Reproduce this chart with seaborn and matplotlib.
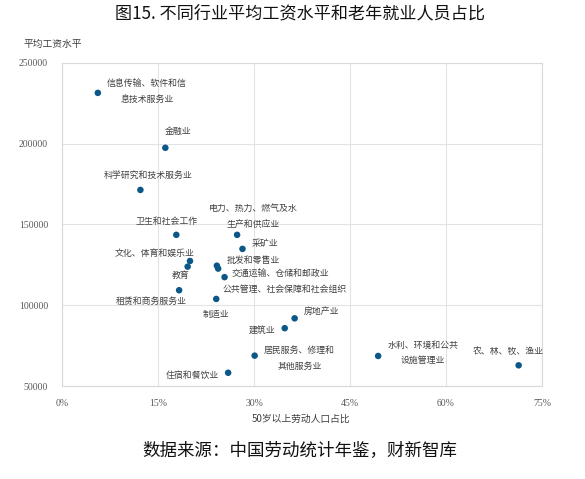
import matplotlib
matplotlib.use("Agg")
import matplotlib.pyplot as plt
import seaborn as sns
import pandas as pd
from matplotlib.ticker import FuncFormatter

industries = ["信息传输、软件和信\n息技术服务业", "金融业", "科学研究和技术服务业", "卫生和社会工作",
              "电力、热力、燃气及水\n生产和供应业", "采矿业", "文化、体育和娱乐业", "教育",
              "批发和零售业", "公共管理、社会保障和社会组织", "交通运输、仓储和邮政业",
              "租赁和商务服务业", "制造业", "房地产业", "建筑业", "居民服务、修理和\n其他服务业",
              "住宿和餐饮业", "水利、环境和公共\n设施管理业", "农、林、牧、渔业"]
old_share = [5.6, 16.15, 12.25, 17.86, 27.36, 28.2, 20.0, 19.63, 24.2, 24.4, 25.4,
             18.3, 24.1, 36.35, 34.8, 30.1, 25.96, 49.4, 71.35]
avg_wage = [231500, 197500, 171400, 143600, 143600, 134900, 127400, 123900, 124500, 122700, 117400,
            109300, 103900, 91900, 85800, 68800, 58200, 68600, 62800]

# label offsets in pixels (dx, dy) from each dot to the label centre
label_offsets = [(49, 1), (13, 16), (8, 15), (-10, 13), (16, 18), (23, 5), (-35, 8), (-7, -9),
                 (36, 5), (67, -21), (56, 4), (-28, -11), (0, -15), (27, 7), (-23, -2), (45, -3),
                 (-36, -3), (45, 3), (-10, 14)]

df = pd.DataFrame({"行业": industries, "占比": old_share, "工资": avg_wage})

sns.set_style("white")
cjk = ["Noto Sans CJK SC", "DejaVu Sans"]
plt.rcParams["font.family"] = cjk

fig = plt.figure(figsize=(5.85, 4.79), dpi=100)
ax = fig.add_axes([62 / 585, 1 - 386 / 479, 480 / 585, 323 / 479])

sns.scatterplot(data=df, x="占比", y="工资", ax=ax, color="#0b5788", s=22,
                edgecolor="none", zorder=3)

ax.set_xlim(0, 75)
ax.set_ylim(50000, 250000)
ax.set_xticks([0, 15, 30, 45, 60, 75])
ax.set_yticks([50000, 100000, 150000, 200000, 250000])
ax.xaxis.set_major_formatter(FuncFormatter(lambda v, p: f"{int(v)}%"))
ax.yaxis.set_major_formatter(FuncFormatter(lambda v, p: f"{int(v)}"))
ax.grid(True, color="#e3e3e3", linewidth=0.8)
for sp in ax.spines.values():
    sp.set_color("#d9d9d9")
    sp.set_linewidth(0.8)
ax.tick_params(axis="both", length=0, labelsize=7, labelcolor="#595959")
ax.tick_params(axis="x", pad=9)
ax.tick_params(axis="y", pad=10)
for lab in ax.get_xticklabels() + ax.get_yticklabels():
    lab.set_family(["Liberation Serif", "DejaVu Serif"])
ax.set_xlabel("")
ax.set_ylabel("")

for name, x, y, (dx, dy) in zip(industries, old_share, avg_wage, label_offsets):
    ax.annotate(name, (x, y), xytext=(dx, dy), textcoords="offset pixels",
                ha="center", va="center", multialignment="center",
                fontsize=6.4, color="#404040", linespacing=2.0, zorder=4)

fig.text(300 / 585, 1 - 13 / 479, "图15. 不同行业平均工资水平和老年就业人员占比",
         ha="center", va="center", fontsize=12.3, color="#111111")
fig.text(23 / 585, 1 - 44 / 479, "平均工资水平", ha="left", va="center",
         fontsize=7, color="#404040")
fig.text(301 / 585, 1 - 419 / 479, "50岁以上劳动人口占比", ha="center", va="center",
         fontsize=7, color="#404040")
fig.text(300 / 585, 1 - 450 / 479, "数据来源：中国劳动统计年鉴，财新智库", ha="center",
         va="center", fontsize=12.6, color="#111111")

fig.savefig("out.png", dpi=100)
